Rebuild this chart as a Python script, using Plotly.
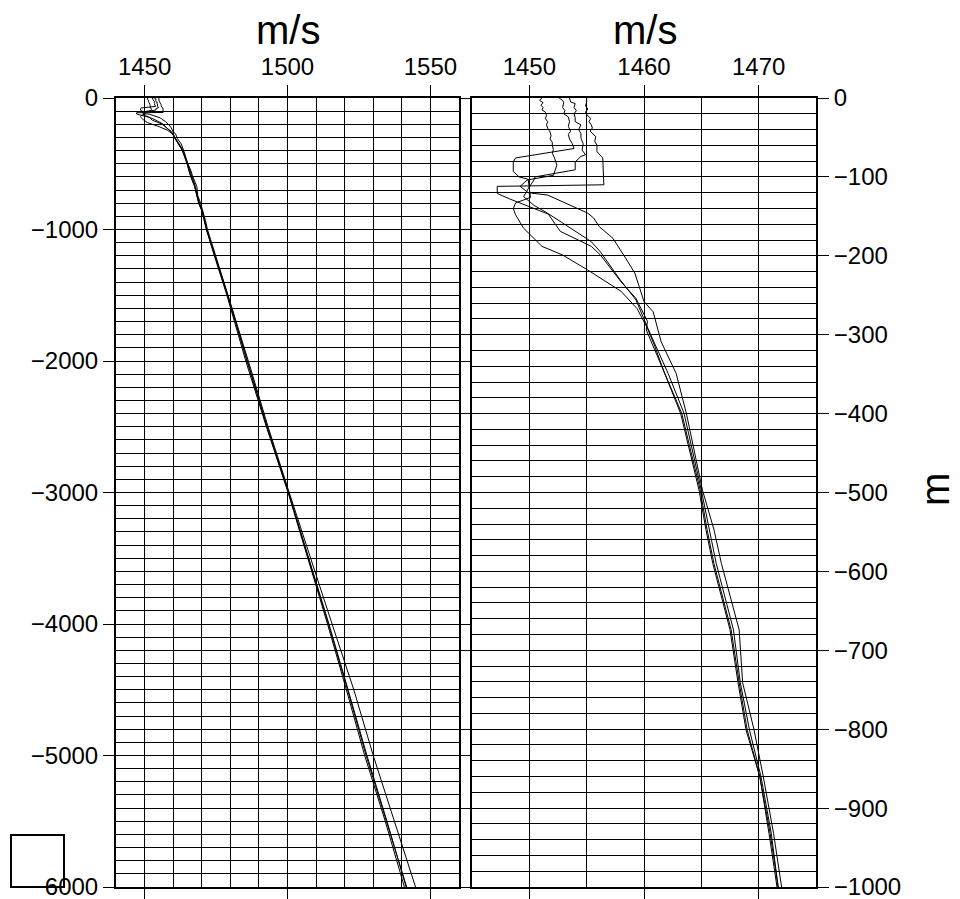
import plotly.graph_objects as go

# ---- data: sound-speed profiles (depth in m, speed in m/s) ----
depth_A = [0, 3, 6, 9, 12, 15, 18, 22, 26, 30, 34, 38, 43, 48, 52, 56, 60, 65, 70, 76, 85, 98,
           104, 112, 120, 123, 146, 152, 163, 178, 203, 222, 258, 271, 309, 349, 400, 497, 547, 590, 674, 741, 801, 860, 932, 1000,
           1200, 1500, 2000, 2500, 3000, 3500, 4000, 4500, 5000, 5500, 6000]
speed_A = [1451.1, 1450.9, 1451.2, 1451.0, 1451.2, 1451.1, 1451.4, 1451.5, 1451.4, 1451.6, 1451.5, 1451.6, 1451.8, 1451.9, 1451.8, 1452.0, 1452.0, 1452.1, 1452.0, 1452.2, 1452.4, 1452.1,
           1449.8, 1449.2, 1449.9, 1451.6, 1455.1, 1455.6, 1456.1, 1457.3, 1458.4, 1459.2, 1460.0, 1460.8, 1461.5, 1462.8, 1463.7, 1465.1, 1466.1, 1466.75, 1468.3, 1468.6, 1469.6, 1470.4, 1471.3, 1472.0,
           1474.8, 1479.2, 1486.3, 1493.2, 1500.6, 1508.0, 1515.6, 1523.2, 1530.0, 1537.4, 1544.8]

depth_B = [0, 3, 6, 12, 16, 20, 24, 30, 36, 42, 46, 52, 58, 64, 76, 81, 93, 100, 103, 112, 126, 133, 140, 148, 165, 188, 199, 218, 245, 267, 292, 313, 349, 400, 497, 547, 590, 674, 741, 801, 860, 932, 1000,
           1200, 1500, 2000, 2500, 3000, 3500, 4000, 4500, 5000, 5500, 6000]
speed_B = [1452.6, 1452.9, 1453.0, 1452.9, 1453.1, 1453.0, 1453.4, 1453.5, 1453.4, 1453.6, 1453.4, 1453.5, 1453.75, 1453.9, 1448.8, 1448.6, 1448.6, 1449.1, 1449.9, 1450.0, 1450.1, 1448.8, 1448.6, 1448.8, 1449.5, 1451.1, 1452.9, 1455.1, 1458.0, 1459.4, 1460.3, 1460.9, 1461.8, 1463.2, 1464.8, 1465.4, 1466.0, 1467.5, 1468.2, 1468.9, 1470.1, 1470.9, 1471.6,
           1474.4, 1478.8, 1485.4, 1492.6, 1500.2, 1507.2, 1514.0, 1520.6, 1527.0, 1534.2, 1540.9]

depth_C = [0, 5, 7, 12, 16, 20, 25, 30, 34, 40, 45, 51, 58, 66, 72, 74, 81, 91, 100, 104, 115, 125, 136, 146, 169, 188, 199, 233, 254, 283, 294, 349, 400, 497, 547, 590, 674, 741, 801, 860, 932, 1000,
           1200, 1500, 2000, 2500, 3000, 3500, 4000, 4500, 5000, 5500, 6000]
speed_C = [1453.5, 1453.6, 1454.0, 1453.9, 1454.1, 1453.9, 1454.0, 1454.0, 1454.5, 1454.3, 1454.5, 1454.5, 1454.7, 1454.6, 1454.9, 1454.5, 1454.0, 1454.0, 1450.5, 1450.4, 1449.9, 1449.5, 1450.4, 1451.6, 1452.7, 1455.4, 1456.2, 1458.0, 1459.3, 1460.3, 1460.2, 1461.8, 1463.3, 1464.9, 1465.5, 1466.1, 1467.6, 1468.3, 1469.0, 1470.1, 1471.0, 1471.7,
           1474.6, 1479.0, 1485.8, 1492.8, 1500.3, 1507.4, 1514.3, 1521.0, 1527.5, 1534.6, 1541.7]

depth_D = [0, 5, 10, 14, 18, 21, 26, 30, 34, 38, 42, 46, 49, 55, 60, 68, 76, 110, 112, 121, 128, 148, 165, 182, 195, 230, 256, 290, 294, 349, 400, 497, 547, 590, 674, 741, 801, 860, 932, 1000,
           1200, 1500, 2000, 2500, 3000, 3500, 4000, 4500, 5000, 5500, 6000]
speed_D = [1455.0, 1455.0, 1454.9, 1455.1, 1454.9, 1455.0, 1455.35, 1455.2, 1455.4, 1455.5, 1455.3, 1455.6, 1455.8, 1455.7, 1455.9, 1455.9, 1456.4, 1456.5, 1447.2, 1447.2, 1448.3, 1451.8, 1453.6, 1455.4, 1456.2, 1457.9, 1459.3, 1460.3, 1460.4, 1462.1, 1463.5, 1465.0, 1465.7, 1466.3, 1467.8, 1468.4, 1469.2, 1470.2, 1471.1, 1471.7,
           1474.6, 1479.1, 1486.0, 1492.9, 1500.4, 1507.5, 1514.5, 1521.2, 1527.8, 1534.8, 1541.5]

profiles = [(depth_A, speed_A), (depth_B, speed_B), (depth_C, speed_C), (depth_D, speed_D)]

left_ticks = [1450, 1500, 1550]
right_ticks = [1450, 1460, 1470]
left_depth_ticks = [0, -1000, -2000, -3000, -4000, -5000, -6000]
right_depth_ticks = [0, -100, -200, -300, -400, -500, -600, -700, -800, -900, -1000]
x_title = "m/s"
y_title = "m"

W, H = 960, 899
def px(x): return x / W
def py(y): return 1 - y / H

fig = go.Figure()
for d, s in profiles:
    neg = [-v for v in d]
    fig.add_trace(go.Scatter(x=s, y=neg, mode="lines", line=dict(color="black", width=1),
                             xaxis="x", yaxis="y", showlegend=False, hoverinfo="skip"))
    fig.add_trace(go.Scatter(x=s, y=neg, mode="lines", line=dict(color="black", width=1),
                             xaxis="x2", yaxis="y2", showlegend=False, hoverinfo="skip"))

FONT = "Liberation Sans, Arial, Helvetica, sans-serif"
tickfont = dict(family=FONT, size=24, color="black")
titlefont = dict(family=FONT, size=40, color="black")

common = dict(showline=True, linecolor="black", linewidth=2, mirror="ticks",
              ticks="outside", ticklen=11, tickwidth=1, tickcolor="black",
              showgrid=True, gridcolor="black", gridwidth=1, zeroline=False,
              tickfont=tickfont, automargin=False, ticklabeloverflow="allow")

fig.update_layout(
    width=W, height=H, margin=dict(l=0, r=0, t=0, b=0, autoexpand=False),
    paper_bgcolor="white", plot_bgcolor="white",
    xaxis=dict(domain=[px(116), px(459)], anchor="y", side="top", range=[1440, 1560],
               tickvals=left_ticks, ticktext=[str(v) for v in left_ticks],
               minor=dict(dtick=10, tick0=1440, showgrid=True, gridcolor="black", gridwidth=1),
               **common),
    yaxis=dict(domain=[py(887), py(98)], anchor="x", range=[-6000, 0],
               tickvals=left_depth_ticks,
               minor=dict(dtick=100, tick0=0, showgrid=True, gridcolor="black", gridwidth=1),
               **common),
    xaxis2=dict(domain=[px(472), px(816)], anchor="y2", side="top", range=[1445, 1475],
                tickvals=right_ticks, ticktext=[str(v) for v in right_ticks],
                minor=dict(dtick=5, tick0=1445, showgrid=True, gridcolor="black", gridwidth=1),
                **common),
    yaxis2=dict(domain=[py(887), py(98)], anchor="x2", side="right", range=[-1000, 0],
                tickvals=right_depth_ticks,
                minor=dict(dtick=20, tick0=0, showgrid=True, gridcolor="black", gridwidth=1),
                **common),
)

# axis titles as annotations
fig.add_annotation(text=x_title, xref="paper", yref="paper", x=px(288), y=py(30),
                   showarrow=False, font=titlefont, xanchor="center", yanchor="middle")
fig.add_annotation(text=x_title, xref="paper", yref="paper", x=px(645), y=py(30),
                   showarrow=False, font=titlefont, xanchor="center", yanchor="middle")
fig.add_annotation(text=y_title, xref="paper", yref="paper", x=px(935), y=py(490),
                   showarrow=False, font=titlefont, xanchor="center", yanchor="middle", textangle=-90)

# small empty box in lower-left corner
fig.add_shape(type="rect", xref="paper", yref="paper",
              x0=px(11), x1=px(64), y0=py(887), y1=py(835),
              line=dict(color="black", width=2), fillcolor="rgba(0,0,0,0)", layer="below")

fig.write_html("out.html")
